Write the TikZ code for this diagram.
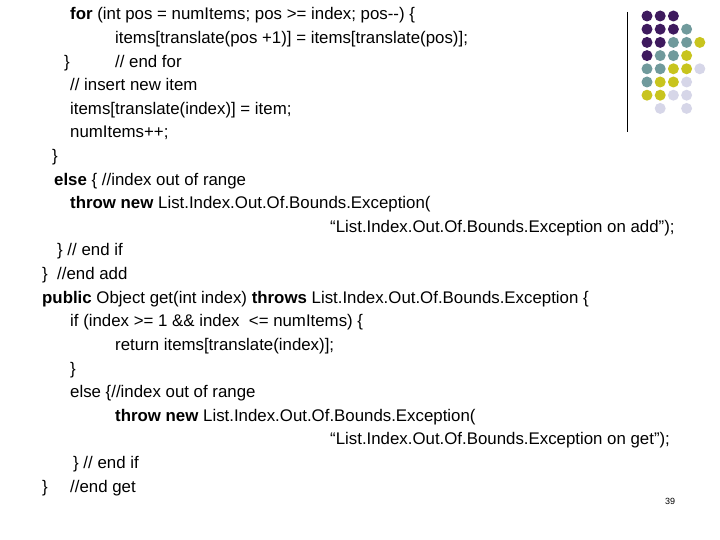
\documentclass[tikz,border=0pt]{standalone}
\usepackage{fontspec}
\setmainfont{Liberation Sans}[Ligatures=NoCommon]
\begin{document}
\begin{tikzpicture}[x=1bp,y=-1bp,
  t/.style={anchor=base west,inner sep=0pt,font=\fontsize{16.9}{19}\selectfont},
  dot/.style={circle,inner sep=0pt,minimum size=11bp}]
\useasboundingbox (0,0) rectangle (720,540);
\definecolor{P}{RGB}{62,26,94}
\definecolor{T}{RGB}{112,154,156}
\definecolor{Y}{RGB}{200,196,30}
\definecolor{L}{RGB}{214,214,232}
\draw[line width=1bp] (627,12) -- (627,132);
\foreach \row/\cols in {0/{P,P,P},1/{P,P,P,T},2/{P,P,T,T,Y},3/{P,T,T,Y},4/{T,T,Y,Y,L},5/{T,Y,Y,L},6/{Y,Y,L,L}}{
  \foreach \c [count=\i from 0] in \cols {
    \fill[\c] (647+13.2*\i,16+13.2*\row) circle (5.5bp);
  }
}
\fill[L] (660.2,108.4) circle (5.5bp);
\fill[L] (686.6,108.4) circle (5.5bp);
\def\b#1{20+23.6*#1}
\node[t] (l1) at (70,{\b0}) {\textbf{for} (int pos = numItems; pos >= index; pos-{}-) \{};
\node[t] (l2) at (115,{\b1}) {items[translate(pos +1)] = items[translate(pos)];};
\node[t] (l3a) at (64,{\b2}) {\}};
\node[t] (l3b) at (115,{\b2}) {// end for};
\node[t] (l4) at (70,{\b3}) {// insert new item};
\node[t] (l5) at (70,{\b4}) {items[translate(index)] = item;};
\node[t] (l6) at (70,{\b5}) {numItems++;};
\node[t] (l7) at (52,{\b6}) {\}};
\node[t] (l8) at (54,{\b7}) {\textbf{else} \{ //index out of range};
\node[t] (l9) at (70,{\b8}) {\textbf{throw new} List.Index.Out.Of.Bounds.Exception(};
\node[t] (l10) at (330,{\b9}) {“List.Index.Out.Of.Bounds.Exception on add”);};
\node[t] (l11) at (57,{\b{10}}) {\} // end if};
\node[t] (l12) at (42,{\b{11}}) {\}\ \ //end add};
\node[t] (l13) at (42,{\b{12}}) {\textbf{public} Object get(int index) \textbf{throws} List.Index.Out.Of.Bounds.Exception \{};
\node[t] (l14) at (70,{\b{13}}) {if (index >= 1 \&\& index\ \ <= numItems) \{};
\node[t] (l15) at (115,{\b{14}}) {return items[translate(index)];};
\node[t] (l16) at (70,{\b{15}}) {\}};
\node[t] (l17) at (70,{\b{16}}) {else \{//index out of range};
\node[t] (l18) at (115,{\b{17}}) {\textbf{throw new} List.Index.Out.Of.Bounds.Exception(};
\node[t] (l19) at (330,{\b{18}}) {“List.Index.Out.Of.Bounds.Exception on get”);};
\node[t] (l20) at (73,{\b{19}}) {\} // end if};
\node[t] (l21a) at (42,{\b{20}}) {\}};
\node[t] (l21b) at (70,{\b{20}}) {//end get};
\node[t,font=\fontsize{9}{11}\selectfont] (pg) at (665,504) {39};
\end{tikzpicture}
\end{document}
